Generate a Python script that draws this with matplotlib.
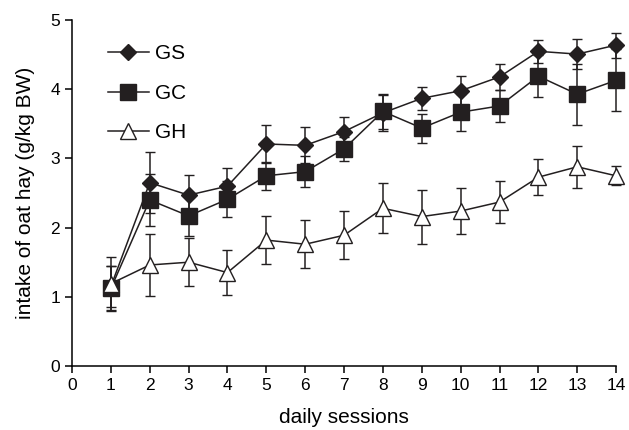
import numpy as np
import matplotlib; matplotlib.use("Agg")
import matplotlib.pyplot as plt
from matplotlib.lines import Line2D

plt.rcParams["font.family"] = ["Liberation Sans", "DejaVu Sans"]

sessions = np.arange(1, 15)
gs = [1.15, 2.65, 2.47, 2.60, 3.21, 3.19, 3.39, 3.66, 3.87, 3.98, 4.18, 4.55, 4.51, 4.64]
gs_err = [0.30, 0.44, 0.29, 0.26, 0.28, 0.26, 0.21, 0.26, 0.17, 0.21, 0.19, 0.17, 0.22, 0.18]
gc = [1.12, 2.40, 2.17, 2.41, 2.75, 2.81, 3.14, 3.68, 3.44, 3.67, 3.76, 4.19, 3.93, 4.13]
gc_err = [0.33, 0.38, 0.29, 0.26, 0.20, 0.22, 0.17, 0.25, 0.21, 0.27, 0.23, 0.30, 0.44, 0.45]
gh = [1.19, 1.46, 1.50, 1.35, 1.82, 1.76, 1.89, 2.28, 2.16, 2.24, 2.37, 2.73, 2.88, 2.75]
gh_err = [0.38, 0.45, 0.35, 0.33, 0.35, 0.35, 0.35, 0.36, 0.39, 0.33, 0.30, 0.26, 0.30, 0.14]

ink = "#231f20"
fig = plt.figure(figsize=(6.29, 4.30), dpi=100)
ax = fig.add_axes([0.1145, 0.149, 0.865, 0.804])

series = [("GS", gs, gs_err, "D", ink, 8.2),
          ("GC", gc, gc_err, "s", ink, 12),
          ("GH", gh, gh_err, "^", "white", 12)]
handles = []
for name, y, err, mk, fc, ms in series:
    cont = ax.errorbar(sessions, y, yerr=err, color=ink, lw=1.1, marker=mk, ms=ms,
                       mfc=fc, mec=ink, mew=1.0, capsize=3.5, capthick=1.1,
                       elinewidth=1.1)
    for art in cont.lines[0:1] + tuple(cont.lines[1]) + tuple(cont.lines[2]):
        art.set_clip_on(False)
    handles.append(Line2D([], [], color=ink, lw=1.1, marker=mk, ms=ms,
                          mfc=fc, mec=ink, mew=1.0, label=name))

ax.set_xlim(0, 14)
ax.set_ylim(0, 5)
ax.set_xticks(range(0, 15))
ax.set_yticks(range(0, 6))
for s in ("top", "right"):
    ax.spines[s].set_visible(False)
for s in ("left", "bottom"):
    ax.spines[s].set_linewidth(1.1)
ax.tick_params(direction="out", length=5, width=1.1, labelsize=12.5)
ax.set_xlabel("daily sessions", fontsize=15, labelpad=11)
ax.set_ylabel("intake of oat hay (g/kg BW)", fontsize=15, labelpad=11)

ax.legend(handles=handles, loc="upper left", frameon=False, fontsize=15,
          handlelength=1.95, labelspacing=0.98, handletextpad=0.3,
          borderaxespad=0, borderpad=0, bbox_to_anchor=(0.066, 0.93))

fig.savefig("out.png", dpi=100)
